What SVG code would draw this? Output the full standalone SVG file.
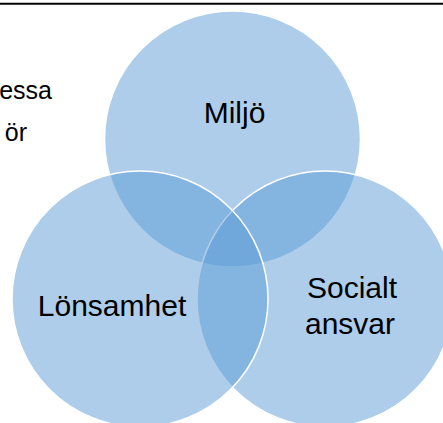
<svg xmlns="http://www.w3.org/2000/svg" width="443" height="423" viewBox="0 0 443 423">
  <style>
    .c { fill: #5B9BD5; fill-opacity: 0.5; stroke: #FFFFFF; stroke-width: 1.5; }
    .t { font-family: "Liberation Sans", Arial, sans-serif; font-size: 30px; fill: #000000; text-anchor: middle; }
    .s { font-family: "Liberation Sans", Arial, sans-serif; font-size: 25px; fill: #000000; text-anchor: end; }
  </style>
  <rect x="0" y="0" width="443" height="423" fill="#FFFFFF"/>
  <line x1="0" y1="3.7" x2="443" y2="3.7" stroke="#000000" stroke-width="2"/>
  <g id="side-text">
    <text class="s" x="52" y="99">essa</text>
    <text class="s" x="27" y="141">ör</text>
  </g>
  <g id="connectors"></g>
  <g id="miljo">
    <circle class="c" cx="232.5" cy="139" r="128"/>
  </g>
  <g id="socialt-ansvar">
    <circle class="c" cx="325" cy="299" r="128"/>
  </g>
  <g id="lonsamhet">
    <circle class="c" cx="140" cy="299" r="128"/>
  </g>
  <g id="labels">
    <text class="t" x="234.5" y="123">Miljö</text>
    <text class="t" x="112" y="316">Lönsamhet</text>
    <text class="t" x="352" y="298">Socialt</text>
    <text class="t" x="350" y="334">ansvar</text>
  </g>
</svg>
